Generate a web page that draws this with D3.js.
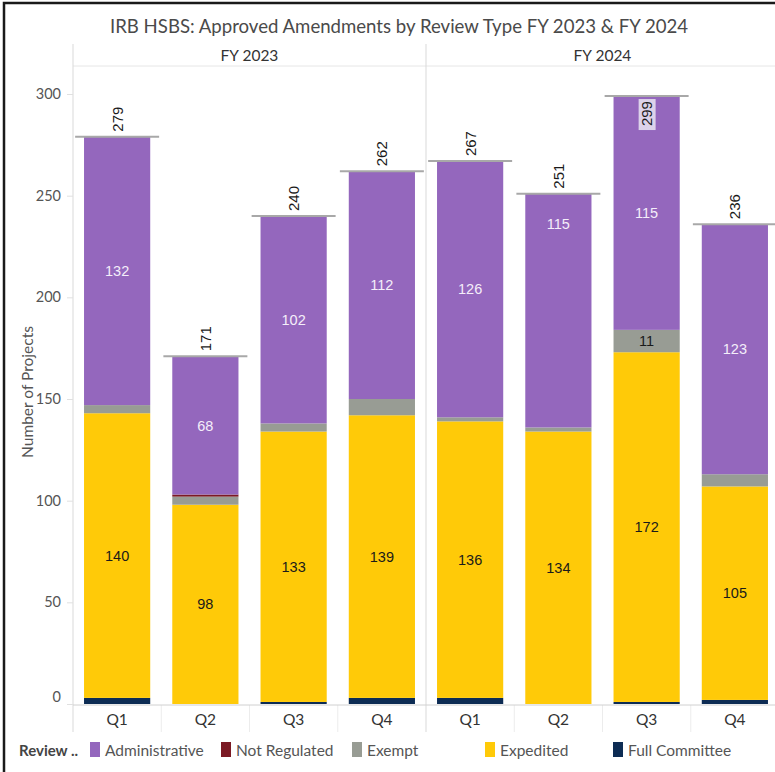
<!DOCTYPE html>
<html><head><meta charset="utf-8">
<script src="https://cdn.jsdelivr.net/npm/d3@7"></script>
<style>body{margin:0;background:#fff}svg{display:block}</style>
</head><body>
<svg id="chart" width="775" height="772"></svg>
<script>
const years = ["FY 2023", "FY 2024"];
const quarters = ["Q1", "Q2", "Q3", "Q4"];
const reviewTypes = ["Full Committee", "Expedited", "Exempt", "Not Regulated", "Administrative"];
const legendOrder = ["Administrative", "Not Regulated", "Exempt", "Expedited", "Full Committee"];
const colors = ["#0d2c54", "#ffca08", "#989c94", "#7b1a24", "#9467bd"];
// values per year, per quarter, in reviewTypes order
const fy2023FullCommittee = [3, 0, 1, 3];
const fy2023Expedited = [140, 98, 133, 139];
const fy2023Exempt = [4, 4, 4, 8];
const fy2023NotRegulated = [0, 1, 0, 0];
const fy2023Administrative = [132, 68, 102, 112];
const fy2024FullCommittee = [3, 0, 1, 2];
const fy2024Expedited = [136, 134, 172, 105];
const fy2024Exempt = [2, 2, 11, 6];
const fy2024NotRegulated = [0, 0, 0, 0];
const fy2024Administrative = [126, 115, 115, 123];
const yTicks = [0, 50, 100, 150, 200, 250, 300];

const series = {
  "FY 2023": [fy2023FullCommittee, fy2023Expedited, fy2023Exempt, fy2023NotRegulated, fy2023Administrative],
  "FY 2024": [fy2024FullCommittee, fy2024Expedited, fy2024Exempt, fy2024NotRegulated, fy2024Administrative]
};
const rows = [];
years.forEach(yr => quarters.forEach((q, qi) => {
  const r = {year: yr, quarter: q};
  reviewTypes.forEach((t, ti) => r[t] = series[yr][ti][qi]);
  r.total = d3.sum(reviewTypes, t => r[t]);
  rows.push(r);
}));

const FONT = "Lato, 'Open Sans', sans-serif";
const NUMFONT = "'Liberation Sans', Arial, sans-serif";
const svg = d3.select("#chart");
svg.append("rect").attr("width", 775).attr("height", 772).attr("fill", "#fff");
// outer frame
svg.append("path").attr("d", "M4,772V3H775").attr("fill", "none").attr("stroke", "#1a1a1a").attr("stroke-width", 2.5);

const plotLeft = 73, paneTop = 44, headerBottom = 66, baseY = 704, axisBottom = 732;
const color = d3.scaleOrdinal(reviewTypes, colors);
const y = d3.scaleLinear().domain([0, 300]).range([baseY, 94]);
const xYear = d3.scaleBand().domain(years).range([plotLeft, plotLeft + 2 * 353]);
const xQ = d3.scaleBand().domain(quarters).range([0, xYear.bandwidth()]).paddingInner(0.25).paddingOuter(0.125);
const stack = d3.stack().keys(reviewTypes);

// title
svg.append("text").attr("x", 399).attr("y", 33).attr("text-anchor", "middle")
  .attr("font-family", FONT).attr("font-size", 18.6).attr("fill", "#4a4a4a")
  .text("IRB HSBS: Approved Amendments by Review Type FY 2023 & FY 2024");

// header & frame lines
const lineCol = "#d9d9d9";
svg.append("line").attr("x1", plotLeft).attr("x2", 775).attr("y1", headerBottom).attr("y2", headerBottom).attr("stroke", "#e6e6e6");
svg.append("line").attr("x1", plotLeft).attr("x2", plotLeft).attr("y1", paneTop).attr("y2", axisBottom).attr("stroke", lineCol);
years.forEach((yr, i) => {
  const x0 = xYear(yr);
  svg.append("text").attr("x", x0 + xYear.bandwidth() / 2).attr("y", 61).attr("text-anchor", "middle")
    .attr("font-family", FONT).attr("font-size", 15.5).attr("fill", "#333").text(yr);
  if (i > 0) svg.append("line").attr("x1", x0).attr("x2", x0).attr("y1", paneTop).attr("y2", axisBottom).attr("stroke", lineCol);
  // x-axis separators
  quarters.forEach((q, qi) => {
    if (qi > 0) {
      const sx = x0 + qi * xQ.step();
      svg.append("line").attr("x1", sx).attr("x2", sx).attr("y1", baseY + 1).attr("y2", axisBottom).attr("stroke", "#ececec");
    }
  });
});

// y axis
const yAxis = svg.append("g").attr("transform", `translate(${plotLeft},0)`)
  .call(d3.axisLeft(y).tickValues(yTicks).tickSize(6).tickPadding(6));
yAxis.select(".domain").remove();
yAxis.selectAll(".tick line").attr("stroke", "#e0e0e0");
yAxis.selectAll(".tick text").attr("font-family", FONT).attr("font-size", 14.5).attr("fill", "#555")
  .attr("dy", d => d === 0 ? "-0.15em" : "0.32em");
svg.append("text").attr("transform", "translate(33,392) rotate(-90)").attr("text-anchor", "middle")
  .attr("font-family", FONT).attr("font-size", 15.5).attr("fill", "#555").text("Number of Projects");

// baseline
svg.append("line").attr("x1", plotLeft).attr("x2", 775).attr("y1", baseY + 1).attr("y2", baseY + 1).attr("stroke", "#d0d0d0");

// label nudges (fraction along segment from bottom)
const labelFrac = {"FY 2024|Q2|Administrative": 0.87};

years.forEach(yr => {
  const g = svg.append("g").attr("transform", `translate(${xYear(yr)},0)`);
  const data = rows.filter(r => r.year === yr);
  const stacked = stack(data);
  stacked.forEach(layer => {
    g.selectAll(null).data(layer).enter().append("rect")
      .attr("x", d => xQ(d.data.quarter))
      .attr("width", xQ.bandwidth())
      .attr("y", d => y(d[1]))
      .attr("height", d => Math.max(0, y(d[0]) - y(d[1])))
      .attr("fill", color(layer.key));
    g.selectAll(null).data(layer.filter(d => d[1] - d[0] >= 10)).enter().append("text")
      .attr("x", d => xQ(d.data.quarter) + xQ.bandwidth() / 2)
      .attr("y", d => {
        const f = labelFrac[`${yr}|${d.data.quarter}|${layer.key}`] ?? 0.5;
        return y(d[0] + (d[1] - d[0]) * f);
      })
      .attr("dy", "0.35em").attr("text-anchor", "middle")
      .attr("font-family", NUMFONT).attr("font-size", 14.5)
      .attr("fill", layer.key === "Administrative" ? "#f4eefa" : "#1a1a1a")
      .text(d => d[1] - d[0]);
  });
  // total reference lines
  data.forEach(d => {
    const cx = xQ(d.quarter) + xQ.bandwidth() / 2;
    const ty = y(d.total);
    g.append("line").attr("x1", cx - 42).attr("x2", cx + 42).attr("y1", ty).attr("y2", ty)
      .attr("stroke", "#a8a8a8").attr("stroke-width", 2);
    const inside = ty < 110;
    if (inside) {
      g.append("rect").attr("x", cx - 8).attr("y", ty + 3).attr("width", 17).attr("height", 31).attr("fill", "#dcd2ea");
      g.append("text").attr("transform", `translate(${cx + 5.5},${ty + 5}) rotate(-90)`)
        .attr("text-anchor", "end").attr("font-family", NUMFONT).attr("font-size", 15).attr("fill", "#1a1a1a").text(d.total);
    } else {
      g.append("text").attr("transform", `translate(${cx + 5.5},${ty - 5}) rotate(-90)`)
        .attr("text-anchor", "start").attr("font-family", NUMFONT).attr("font-size", 15).attr("fill", "#1a1a1a").text(d.total);
    }
    g.append("text").attr("x", cx).attr("y", 725).attr("text-anchor", "middle")
      .attr("font-family", FONT).attr("font-size", 15.5).attr("fill", "#333").text(d.quarter);
  });
});

// legend
const lg = svg.append("g");
lg.append("text").attr("x", 19).attr("y", 756).attr("font-family", FONT).attr("font-size", 15)
  .attr("font-weight", 700).attr("fill", "#444").text("Review ..");
const legendX = [90, 221, 352, 485, 613];
legendOrder.forEach((t, i) => {
  lg.append("rect").attr("x", legendX[i]).attr("y", 742).attr("width", 10).attr("height", 15).attr("fill", color(t));
  lg.append("text").attr("x", legendX[i] + 15).attr("y", 756).attr("font-family", FONT).attr("font-size", 15.5)
    .attr("fill", "#555").text(t);
});
</script>
</body></html>
